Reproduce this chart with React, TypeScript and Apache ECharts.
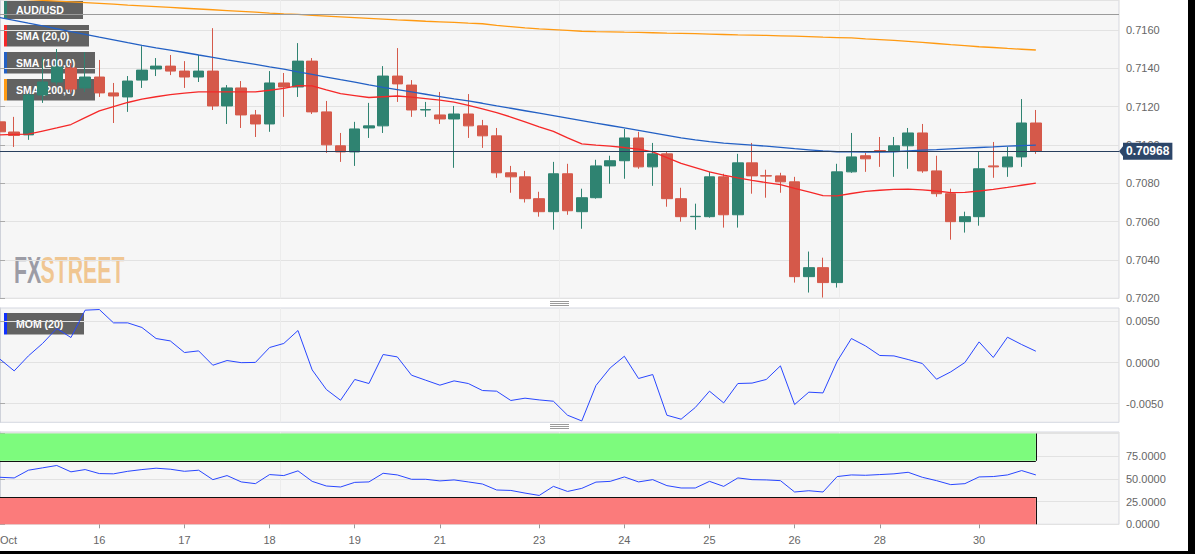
import React, { useEffect, useRef } from 'react';
import * as echarts from 'echarts';

// ---- x axis (4h candles, index based) ----
const tickLabels = ['Oct', '16', '17', '18', '19', '21', '23', '24', '25', '26', '28', '30'];
const tickCandle = [0, 7, 13, 19, 25, 31, 38, 44, 50, 56, 62, 69];

// ---- AUD/USD 4h OHLC ----
const opens = [
  0.71121, 0.71068, 0.71053, 0.71261, 0.71329, 0.71402, 0.71298, 0.71355, 0.71272, 0.71251,
  0.71339, 0.71397, 0.71412, 0.71386, 0.71355, 0.71386, 0.71204, 0.71298, 0.71157, 0.71110,
  0.71324, 0.71303, 0.71438, 0.71173, 0.70996, 0.70964, 0.71089, 0.71100, 0.71360, 0.71313,
  0.71183, 0.71157, 0.71136, 0.71162, 0.71100, 0.71048, 0.70855, 0.70834, 0.70720, 0.70652,
  0.70850, 0.70652, 0.70725, 0.70891, 0.70918, 0.71037, 0.70886, 0.70954, 0.70720, 0.70626,
  0.70626, 0.70834, 0.70636, 0.70907, 0.70840, 0.70839, 0.70808, 0.70313, 0.70360, 0.70282,
  0.70860, 0.70944, 0.70971, 0.70970, 0.70996, 0.71063, 0.70865, 0.70746, 0.70600, 0.70626,
  0.70891, 0.70886, 0.70938, 0.71115,
];
const closes = [
  0.71069, 0.71050, 0.71261, 0.71329, 0.71407, 0.71292, 0.71355, 0.71272, 0.71256, 0.71334,
  0.71391, 0.71412, 0.71386, 0.71355, 0.71386, 0.71204, 0.71298, 0.71157, 0.71110, 0.71324,
  0.71303, 0.71438, 0.71173, 0.71001, 0.70964, 0.71084, 0.71100, 0.71360, 0.71319, 0.71183,
  0.71185, 0.71136, 0.71162, 0.71100, 0.71048, 0.70855, 0.70834, 0.70720, 0.70652, 0.70850,
  0.70657, 0.70725, 0.70891, 0.70918, 0.71037, 0.70886, 0.70954, 0.70720, 0.70626, 0.70628,
  0.70834, 0.70636, 0.70907, 0.70839, 0.70838, 0.70808, 0.70313, 0.70360, 0.70282, 0.70860,
  0.70938, 0.70928, 0.70969, 0.70996, 0.71063, 0.70865, 0.70746, 0.70600, 0.70626, 0.70876,
  0.70886, 0.70938, 0.71115, 0.70968,
];
const lows = [
  0.71058, 0.70990, 0.71027, 0.71220, 0.71313, 0.71272, 0.71277, 0.71251, 0.71115, 0.71173,
  0.71298, 0.71360, 0.71365, 0.71298, 0.71329, 0.71183, 0.71110, 0.71089, 0.71042, 0.71069,
  0.71147, 0.71251, 0.71162, 0.70959, 0.70912, 0.70891, 0.71037, 0.71063, 0.71225, 0.71147,
  0.71147, 0.71110, 0.70881, 0.71037, 0.70985, 0.70829, 0.70751, 0.70700, 0.70626, 0.70558,
  0.70636, 0.70563, 0.70720, 0.70798, 0.70824, 0.70876, 0.70787, 0.70678, 0.70600, 0.70558,
  0.70621, 0.70569, 0.70569, 0.70746, 0.70725, 0.70751, 0.70282, 0.70230, 0.70204, 0.70256,
  0.70855, 0.70860, 0.70886, 0.70834, 0.70876, 0.70855, 0.70730, 0.70506, 0.70543, 0.70579,
  0.70829, 0.70834, 0.70886, 0.70954,
];
const highs = [
  0.71141, 0.71147, 0.71270, 0.71459, 0.71501, 0.71428, 0.71485, 0.71444, 0.71324, 0.71360,
  0.71516, 0.71454, 0.71470, 0.71438, 0.71470, 0.71610, 0.71313, 0.71334, 0.71183, 0.71386,
  0.71376, 0.71532, 0.71454, 0.71230, 0.71063, 0.71121, 0.71220, 0.71412, 0.71506, 0.71339,
  0.71225, 0.71277, 0.71204, 0.71266, 0.71131, 0.71089, 0.70891, 0.70865, 0.70756, 0.70912,
  0.70902, 0.70772, 0.70923, 0.70944, 0.71084, 0.71069, 0.71011, 0.70964, 0.70777, 0.70694,
  0.70860, 0.70850, 0.70954, 0.71011, 0.70871, 0.70855, 0.70834, 0.70444, 0.70412, 0.70902,
  0.71063, 0.70959, 0.71042, 0.71042, 0.71089, 0.71110, 0.70944, 0.70772, 0.70652, 0.70964,
  0.71016, 0.70990, 0.71240, 0.71183,
];

// ---- moving averages ----
const sma20 = [
  0.71053, 0.71056, 0.71057, 0.71073, 0.71089, 0.71107, 0.71143, 0.71178, 0.71201, 0.71222,
  0.71240, 0.71252, 0.71263, 0.71271, 0.71277, 0.71277, 0.71277, 0.71277, 0.71277, 0.71286,
  0.71296, 0.71310, 0.71309, 0.71288, 0.71268, 0.71258, 0.71248, 0.71252, 0.71256, 0.71250,
  0.71242, 0.71234, 0.71224, 0.71207, 0.71189, 0.71169, 0.71146, 0.71121, 0.71095, 0.71071,
  0.71037, 0.71006, 0.70999, 0.70994, 0.70987, 0.70979, 0.70964, 0.70934, 0.70904, 0.70882,
  0.70860, 0.70843, 0.70828, 0.70815, 0.70804, 0.70793, 0.70774, 0.70756, 0.70736, 0.70735,
  0.70747, 0.70758, 0.70764, 0.70769, 0.70770, 0.70766, 0.70760, 0.70752, 0.70753, 0.70760,
  0.70769, 0.70779, 0.70790, 0.70801,
];
const sma100 = [
  0.71665, 0.71651, 0.71636, 0.71622, 0.71607, 0.71592, 0.71578, 0.71563, 0.71549, 0.71534,
  0.71520, 0.71507, 0.71495, 0.71483, 0.71470, 0.71458, 0.71445, 0.71433, 0.71421, 0.71408,
  0.71396, 0.71382, 0.71369, 0.71355, 0.71341, 0.71328, 0.71314, 0.71301, 0.71289, 0.71277,
  0.71265, 0.71253, 0.71241, 0.71230, 0.71218, 0.71204, 0.71192, 0.71179, 0.71166, 0.71153,
  0.71140, 0.71127, 0.71114, 0.71102, 0.71089, 0.71076, 0.71063, 0.71050, 0.71037, 0.71027,
  0.71018, 0.71010, 0.71005, 0.71000, 0.70994, 0.70988, 0.70981, 0.70975, 0.70969, 0.70965,
  0.70964, 0.70963, 0.70963, 0.70965, 0.70969, 0.70973, 0.70976, 0.70980, 0.70984, 0.70987,
  0.70990, 0.70994, 0.70997, 0.70999,
];
const sma200 = [
  0.71766, 0.71763, 0.71759, 0.71755, 0.71751, 0.71747, 0.71743, 0.71739, 0.71735, 0.71730,
  0.71726, 0.71722, 0.71718, 0.71714, 0.71710, 0.71706, 0.71702, 0.71698, 0.71694, 0.71689,
  0.71685, 0.71682, 0.71677, 0.71673, 0.71669, 0.71665, 0.71661, 0.71657, 0.71653, 0.71650,
  0.71646, 0.71643, 0.71640, 0.71636, 0.71633, 0.71625, 0.71618, 0.71611, 0.71606, 0.71602,
  0.71598, 0.71594, 0.71592, 0.71591, 0.71589, 0.71588, 0.71586, 0.71584, 0.71583, 0.71581,
  0.71579, 0.71577, 0.71575, 0.71574, 0.71572, 0.71570, 0.71568, 0.71566, 0.71563, 0.71561,
  0.71559, 0.71554, 0.71550, 0.71546, 0.71541, 0.71536, 0.71530, 0.71524, 0.71519, 0.71513,
  0.71509, 0.71504, 0.71500, 0.71496,
];

// ---- indicators ----
const mom20 = [
  0.0004, -0.00102, 0.0008, 0.00231, 0.00413, 0.00303, 0.00635, 0.00643, 0.00481, 0.00481,
  0.00425, 0.00291, 0.00262, 0.00121, 0.00141, -0.00033, 0.00024, -0.00002, 0.00001, 0.00182,
  0.00231, 0.00388, -0.0009, -0.00328, -0.00458, -0.00206, -0.00255, 0.00097, 0.00068, -0.00154,
  -0.00215, -0.00275, -0.00223, -0.00255, -0.0034, -0.00348, -0.00461, -0.00433, -0.00454, -0.0047,
  -0.0064, -0.00709, -0.00279, -0.00066, 0.00076, -0.00194, -0.00146, -0.0064, -0.00688, -0.00546,
  -0.00348, -0.0049, -0.00255, -0.0025, -0.00206, -0.00041, -0.0051, -0.0036, -0.00369, 0.00016,
  0.00291, 0.00201, 0.00085, 0.0008, 0.00036, -0.00012, -0.00203, -0.00114, 0.0, 0.0025,
  0.00061, 0.00307, 0.00218, 0.00137,
];
const rsi14 = [
  51.8, 51.1, 59.6, 62.2, 64.8, 57.8, 60.3, 55.9, 55.6, 58.4,
  60.3, 61.8, 60.7, 58.4, 59.6, 49.2, 53.7, 46.7, 44.8, 54.8,
  53.7, 58.9, 47.3, 42.2, 41.1, 46.2, 46.7, 56.2, 54.4, 49.6,
  49.6, 47.8, 48.9, 46.7, 44.4, 37.8, 37.3, 34.4, 31.8, 41.8,
  36.2, 39.6, 46.5, 47.3, 52.2, 46.7, 49.2, 42.6, 40.0, 40.0,
  47.3, 41.8, 51.1, 49.2, 48.9, 48.1, 35.6, 37.0, 35.6, 52.6,
  54.4, 54.0, 54.8, 55.6, 57.3, 51.8, 48.1, 43.7, 44.8, 52.2,
  52.6, 54.4, 59.2, 54.4,
];
const RSI_OVERBOUGHT = 70;
const RSI_OVERSOLD = 30;
const RSI_TOP = 100;
const PRIOR_LEVEL = 0.71683;

const legendMain = ['AUD/USD', 'SMA (20,0)', 'SMA (100,0)', 'SMA (200,0)'];
const legendMom = 'MOM (20)';
const legendRsi = 'RSI (14,70,30,1)';

// ---- styling ----
const FONT = '"Liberation Sans", Arial, sans-serif';
const BULL = '#2f8371';
const BEAR = '#d5594a';
const C_SMA20 = '#f52828';
const C_SMA100 = '#2360c4';
const C_SMA200 = '#ff9a12';
const C_IND = '#2846ff';
const PLOT_BG = '#f6f6f6';
const GRID_BORDER = '#d4d7e0';
const SPLIT = '#e2e2e2';
const LABEL = '#666';

const X_MIN = 0;
const X_MAX = 78.86;
const PLOT_W = 1119;

export default function App() {
  const ref = useRef<HTMLDivElement>(null);

  useEffect(() => {
    if (!ref.current) return;
    const chart = echarts.init(ref.current, null, { renderer: 'svg' });
    const n = closes.length;
    const last = n - 1;
    const LAST_CLOSE = closes[last];

    const candles = opens.map((o, i) => [i, o, closes[i], lows[i], highs[i]]);
    const pts = (arr: number[]) => arr.map((v, i) => [i, v]);

    const baseX = (g: number, withLabels: boolean) => ({
      type: 'value',
      gridIndex: g,
      min: X_MIN,
      max: X_MAX,
      position: 'bottom',
      axisLine: { show: false },
      splitLine: { show: false },
      axisTick: withLabels
        ? { show: true, customValues: tickCandle.slice(1), length: 4, lineStyle: { color: '#999' } }
        : { show: false },
      axisLabel: withLabels
        ? {
            show: true,
            customValues: tickCandle,
            formatter: (v: number) => {
              const k = tickCandle.indexOf(Math.round(v));
              if (k === 0) return '{first|' + tickLabels[0] + '}';
              return k >= 0 ? tickLabels[k] : '';
            },
            rich: { first: { padding: [0, 0, 0, 17], color: LABEL, fontSize: 11, fontFamily: FONT } },
            color: LABEL,
            fontSize: 11,
            fontFamily: FONT,
            margin: 10,
          }
        : { show: false },
    });
    const quarterX = (g: number) => ({
      type: 'value',
      gridIndex: g,
      min: 0,
      max: 4,
      interval: 1,
      position: 'top',
      axisLine: { show: false },
      axisTick: { show: false },
      axisLabel: { show: false },
      splitLine: { show: true, lineStyle: { color: '#ececec', width: 1 } },
    });
    const rightY = (g: number, extra: any) => ({
      type: 'value',
      gridIndex: g,
      position: 'right',
      scale: true,
      axisLine: { show: true, lineStyle: { color: '#cfd2da' } },
      axisTick: { show: true, length: 5, lineStyle: { color: '#aaa' } },
      splitLine: { show: true, lineStyle: { color: SPLIT, width: 1 } },
      ...extra,
      axisLabel: {
        color: LABEL,
        fontSize: 11,
        fontFamily: FONT,
        margin: 7,
        hideOverlap: false,
        ...(extra.axisLabel || {}),
      },
    });

    const gridCommon = {
      left: 0,
      width: PLOT_W,
      show: true,
      backgroundColor: PLOT_BG,
      borderColor: GRID_BORDER,
      borderWidth: 1,
      containLabel: false,
      outerBoundsMode: 'none',
    };

    const handle = (y: number) => ({
      type: 'group',
      children: [0, 2, 4].map((d) => ({
        type: 'line',
        shape: { x1: 550, y1: y + d + 0.5, x2: 569, y2: y + d + 0.5 },
        style: { stroke: '#9a9a9a', lineWidth: 1 },
      })),
    });

    const legendBox = (text: string, color: string, y: number, w: number, h: number, boxColor = 'rgba(0,0,0,0.6)') => ({
      type: 'group',
      children: [
        { type: 'rect', shape: { x: 4, y, width: 3, height: h }, style: { fill: color } },
        { type: 'rect', shape: { x: 7, y, width: w, height: h }, style: { fill: boxColor } },
        {
          type: 'text',
          style: {
            x: 16,
            y: y + h / 2,
            text,
            fill: '#fff',
            font: `bold 10.5px ${FONT}`,
            textVerticalAlign: 'middle',
          },
        },
      ],
    });

    const option: any = {
      animation: false,
      backgroundColor: '#ffffff',
      grid: [
        { ...gridCommon, top: 0, height: 298.3 },
        { ...gridCommon, top: 308, height: 114.3 },
        { ...gridCommon, top: 432, height: 92.3 },
      ],
      xAxis: [baseX(0, false), baseX(1, false), baseX(2, true), quarterX(0), quarterX(1), quarterX(2)],
      yAxis: [
        rightY(0, {
          min: 0.702,
          max: 0.71757,
          interval: 0.002,
          axisLabel: { formatter: (v: number) => v.toFixed(4), showMaxLabel: false },
        }),
        rightY(1, {
          min: -0.007257,
          max: 0.006614,
          axisTick: { show: true, length: 5, lineStyle: { color: '#aaa' }, customValues: [-0.005, 0, 0.005] },
          axisLabel: { customValues: [-0.005, 0, 0.005], formatter: (v: number) => v.toFixed(4) },
        }),
        rightY(2, {
          min: 0,
          max: 101.7,
          interval: 25,
          axisLabel: { formatter: (v: number) => (v > 90 ? '' : v.toFixed(4)), showMaxLabel: false },
        }),
      ],
      series: [
        {
          type: 'candlestick',
          xAxisIndex: 0,
          yAxisIndex: 0,
          data: candles,
          encode: { x: 0, y: [1, 2, 3, 4] },
          barWidth: 11,
          itemStyle: {
            color: BULL,
            color0: BEAR,
            borderColor: BULL,
            borderColor0: BEAR,
            borderWidth: 1,
          },
        },
        {
          type: 'line',
          name: 'SMA 200',
          xAxisIndex: 0,
          yAxisIndex: 0,
          data: pts(sma200),
          showSymbol: false,
          lineStyle: { color: C_SMA200, width: 1.3 },
          z: 3,
        },
        {
          type: 'line',
          name: 'SMA 100',
          xAxisIndex: 0,
          yAxisIndex: 0,
          data: pts(sma100),
          showSymbol: false,
          lineStyle: { color: C_SMA100, width: 1.3 },
          z: 3,
        },
        {
          type: 'line',
          name: 'SMA 20',
          xAxisIndex: 0,
          yAxisIndex: 0,
          data: pts(sma20),
          showSymbol: false,
          lineStyle: { color: C_SMA20, width: 1.3 },
          z: 3,
          markLine: {
            silent: true,
            precision: 5,
            symbol: ['none', 'none'],
            animation: false,
            data: [
              {
                yAxis: PRIOR_LEVEL,
                lineStyle: { color: '#9b9b9b', width: 1, type: 'solid' },
                label: { show: false },
              },
              {
                yAxis: LAST_CLOSE,
                lineStyle: { color: '#283f5e', width: 1, type: 'solid' },
                label: {
                  show: true,
                  position: 'end',
                  distance: 4,
                  formatter: LAST_CLOSE.toFixed(5),
                  backgroundColor: '#2c4669',
                  color: '#fff',
                  fontWeight: 'bold',
                  fontSize: 12,
                  fontFamily: FONT,
                  padding: [3, 3, 2, 3],
                },
              },
            ],
          },
        },
        {
          type: 'line',
          name: 'MOM',
          xAxisIndex: 1,
          yAxisIndex: 1,
          data: pts(mom20),
          showSymbol: false,
          lineStyle: { color: C_IND, width: 1 },
        },
        {
          type: 'line',
          name: 'RSI',
          xAxisIndex: 2,
          yAxisIndex: 2,
          data: pts(rsi14),
          showSymbol: false,
          lineStyle: { color: C_IND, width: 1 },
          z: 4,
          markArea: {
            silent: true,
            data: [
              [
                { xAxis: X_MIN, yAxis: RSI_OVERBOUGHT, itemStyle: { color: '#7dfb7d' } },
                { xAxis: last, yAxis: RSI_TOP },
              ],
              [
                { xAxis: X_MIN, yAxis: 0, itemStyle: { color: '#fb7b7b' } },
                { xAxis: last, yAxis: RSI_OVERSOLD },
              ],
            ],
          },
          markLine: {
            silent: true,
            precision: 3,
            symbol: ['none', 'none'],
            label: { show: false },
            lineStyle: { color: '#111', width: 1, type: 'solid' },
            data: [
              [{ coord: [X_MIN, RSI_OVERBOUGHT] }, { coord: [last, RSI_OVERBOUGHT] }],
              [{ coord: [last, RSI_OVERBOUGHT] }, { coord: [last, RSI_TOP] }],
              [{ coord: [X_MIN, RSI_OVERSOLD] }, { coord: [last, RSI_OVERSOLD] }],
              [{ coord: [last, 0] }, { coord: [last, RSI_OVERSOLD] }],
            ],
          },
        },
      ],
      graphic: [
        {
          id: 'wm-fx',
          type: 'text',
          x: 14,
          y: 252,
          scaleX: 0.575,
          z: 0,
          silent: true,
          style: { x: 0, y: 0, text: 'FX', fill: 'rgba(140,140,150,0.85)', font: `bold 37px ${FONT}`, textVerticalAlign: 'top' },
        },
        {
          id: 'wm-street',
          type: 'text',
          x: 40.5,
          y: 252,
          scaleX: 0.575,
          z: 0,
          silent: true,
          style: { x: 0, y: 0, text: 'STREET', fill: 'rgba(240,190,128,0.85)', font: `bold 37px ${FONT}`, textVerticalAlign: 'top' },
        },
        { id: 'lg0', ...legendBox(legendMain[0], BULL, 0, 76, 19) },
        { id: 'lg1', ...legendBox(legendMain[1], C_SMA20, 25, 82, 21.5) },
        { id: 'lg2', ...legendBox(legendMain[2], C_SMA100, 52, 88, 21.5) },
        { id: 'lg3', ...legendBox(legendMain[3], C_SMA200, 79, 88, 21.5) },
        { id: 'lg4', ...legendBox(legendMom, '#1030ff', 313, 77, 21.5) },
        { id: 'lg5', ...legendBox(legendRsi, '#1030ff', 436.5, 108, 21.5) },
        { id: 'h1', ...handle(301) },
        { id: 'h2', ...handle(424) },
        { id: 'edgeR', type: 'rect', shape: { x: 1188, y: 0, width: 7, height: 554 }, style: { fill: '#000' } },
        { id: 'edgeB', type: 'rect', shape: { x: 0, y: 551, width: 1195, height: 3 }, style: { fill: '#000' } },
      ],
    };

    chart.setOption(option);

    const yPx = chart.convertToPixel({ yAxisIndex: 0 }, LAST_CLOSE) as number;
    if (typeof yPx === 'number' && isFinite(yPx)) {
      chart.setOption({
        graphic: [
          {
            id: 'priceArrow',
            type: 'polygon',
            shape: { points: [[PLOT_W, yPx], [PLOT_W + 4, yPx - 5], [PLOT_W + 4, yPx + 5]] },
            style: { fill: '#2c4669' },
            z: 10,
          },
        ],
      });
    }

    return () => chart.dispose();
  }, []);

  return (
    <div
      ref={ref}
      style={{ position: 'fixed', left: 0, top: 0, width: 1195, height: 554, background: '#fff' }}
    />
  );
}
